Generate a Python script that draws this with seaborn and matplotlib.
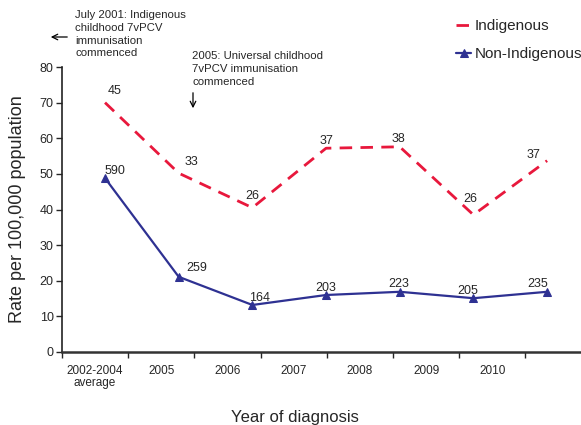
import numpy as np
import pandas as pd
import seaborn as sns
import matplotlib.pyplot as plt

# data
years = ["2002-2004\naverage", "2005", "2006", "2007", "2008", "2009", "2010"]
indigenous_rate = [70.0, 50.2, 40.5, 57.2, 57.6, 38.5, 53.7]
indigenous_n = [45, 33, 26, 37, 38, 26, 37]
non_indigenous_rate = [48.8, 21.1, 13.2, 16.0, 16.9, 15.1, 16.9]
non_indigenous_n = [590, 259, 164, 203, 223, 205, 235]

# label offsets (points) for the case counts
ind_off = [(7, 4), (9, 4), (0, 4), (0, 1), (-1, 1), (-2, 7), (-10, 0)]
non_off = [(7, 1), (13, 2), (5, 1), (0, 1), (-1, 1), (-4, 1), (-7, 1)]

sns.set_style("ticks")
plt.rcParams["font.family"] = ["Liberation Sans", "DejaVu Sans"]

df = pd.DataFrame({
    "year": years,
    "Indigenous": indigenous_rate,
    "Non-Indigenous": non_indigenous_rate,
})

W, H = 581, 425
fig = plt.figure(figsize=(W / 100, H / 100), dpi=100)
ax = fig.add_axes([62 / W, 1 - 352 / H, 1 - 62 / W, 285 / H])

red = "#E8183C"
blue = "#2E3192"

sns.lineplot(data=df, x="year", y="Indigenous", ax=ax, color=red, linewidth=2,
             sort=False, label="Indigenous")
ax.lines[-1].set_dashes((4.5, 3))
sns.lineplot(data=df, x="year", y="Non-Indigenous", ax=ax, color=blue, linewidth=1.6,
             marker="^", markersize=6, markeredgecolor=blue, sort=False,
             label="Non-Indigenous")

for i, (v, n) in enumerate(zip(indigenous_rate, indigenous_n)):
    ax.annotate(str(n), (i, v), xytext=ind_off[i], textcoords="offset points",
                ha="center", va="bottom", fontsize=9)
for i, (v, n) in enumerate(zip(non_indigenous_rate, non_indigenous_n)):
    ax.annotate(str(n), (i, v), xytext=non_off[i], textcoords="offset points",
                ha="center", va="bottom", fontsize=9)

ax.set_xlim(-0.584, 6.46)
ax.set_ylim(0, 80)
ax.set_yticks(np.arange(0, 81, 10))
ax.tick_params(axis="y", direction="out", length=4, width=1, labelsize=9, pad=2)
ax.set_xticks([])
ax.set_xlabel("")
ax.set_ylabel("Rate per 100,000 population", fontsize=13, labelpad=10)
for s in ["top", "right", "bottom"]:
    ax.spines[s].set_visible(False)
ax.spines["left"].set_linewidth(1.2)
ax.spines["left"].set_color("#222222")

# category axis for the year labels
ax2 = ax.twiny()
ax2.set_xlim(-0.5, 7.34)
ax2.xaxis.set_ticks_position("bottom")
ax2.xaxis.set_label_position("bottom")
ax2.set_xticks(np.arange(-0.5, 7.0, 1.0))
ax2.set_xticklabels([])
ax2.set_xticks(np.arange(len(years)), minor=True)
ax2.set_xticklabels(years, minor=True, fontsize=8.5, linespacing=1.05)
ax2.tick_params(axis="x", which="major", direction="out", length=4, width=1)
ax2.tick_params(axis="x", which="minor", length=0, pad=9)
for s in ["top", "right", "left"]:
    ax2.spines[s].set_visible(False)
ax2.spines["bottom"].set_linewidth(1.8)
ax2.spines["bottom"].set_color("#333333")
ax2.set_xlabel("Year of diagnosis", fontsize=12)
ax2.xaxis.set_label_coords(0.449, -0.205)

leg = ax.legend(loc="upper left", bbox_to_anchor=(450 / W, 1 - 13 / H),
                bbox_transform=fig.transFigure, frameon=False, fontsize=11,
                handlelength=1.0, handletextpad=0.2, labelspacing=0.9,
                borderaxespad=0)

# annotations
fig.text(75 / W, 1 - 10 / H, "July 2001: Indigenous\nchildhood 7vPCV\nimmunisation\ncommenced",
         fontsize=8.2, va="top", ha="left", linespacing=1.35)
fig.text(192 / W, 1 - 51 / H, "2005: Universal childhood\n7vPCV immunisation\ncommenced",
         fontsize=8.2, va="top", ha="left", linespacing=1.35)
ax.annotate("", xy=(48 / W, 1 - 37 / H), xytext=(70 / W, 1 - 37 / H),
            xycoords="figure fraction", textcoords="figure fraction",
            arrowprops=dict(arrowstyle="->", color="black", lw=0.9))
ax.annotate("", xy=(193 / W, 1 - 111 / H), xytext=(193 / W, 1 - 90 / H),
            xycoords="figure fraction", textcoords="figure fraction",
            arrowprops=dict(arrowstyle="->", color="black", lw=0.9))

fig.savefig("out.png", dpi=100)
